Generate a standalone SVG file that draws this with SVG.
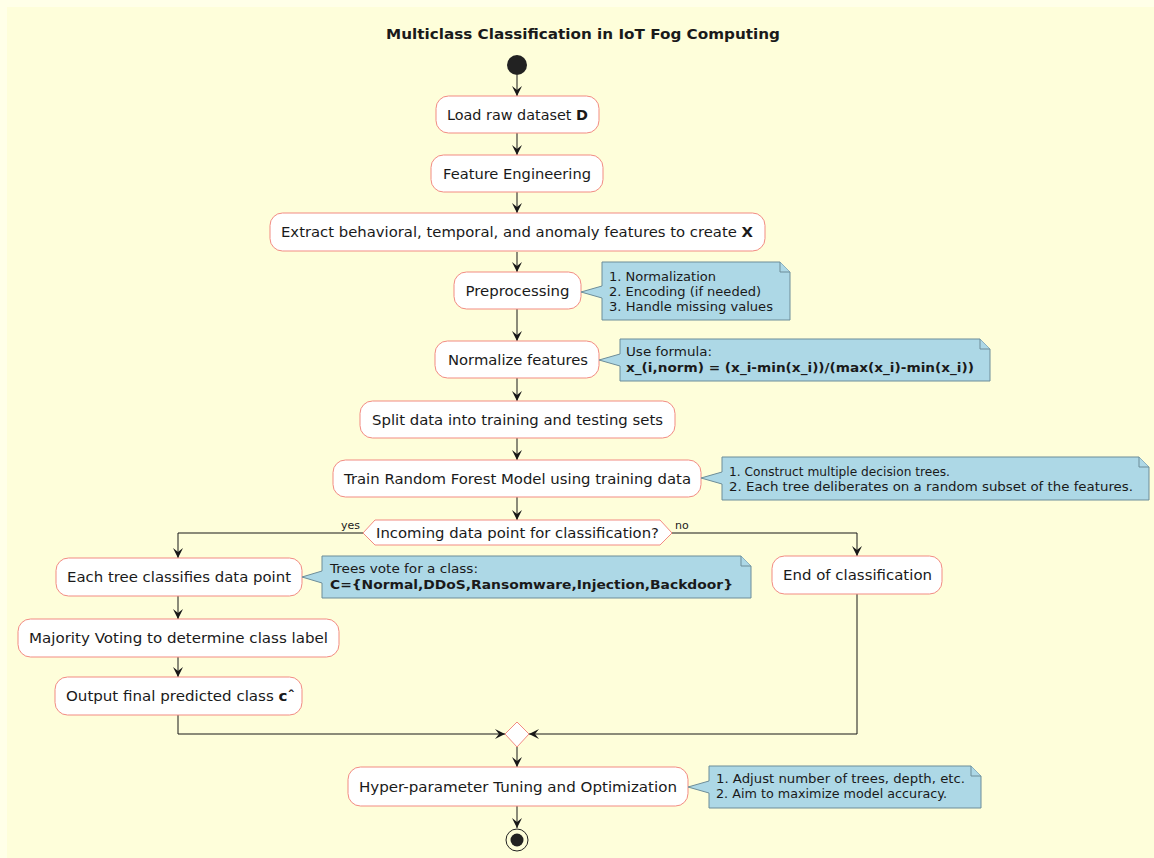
<svg xmlns="http://www.w3.org/2000/svg" width="1154" height="858" viewBox="0 0 1154 858">
<style>
.bx{fill:#FFFFFF;stroke:#F28B82;stroke-width:1}
.nt{fill:#ADD8E6;stroke:#6D8D99;stroke-width:1}
.t{font-family:"DejaVu Sans",sans-serif;font-size:14px;fill:#1A1A1A;text-anchor:middle}
.n{font-family:"DejaVu Sans",sans-serif;font-size:13px;fill:#1A1A1A}
.b{font-weight:bold}
.s{font-family:"DejaVu Sans",sans-serif;font-size:11px;fill:#1A1A1A}
.ln{fill:none;stroke:#181818;stroke-width:1;marker-end:url(#ah)}
.ln0{fill:none;stroke:#181818;stroke-width:1}
</style>
<defs>
<marker id="ah" markerUnits="userSpaceOnUse" markerWidth="11" markerHeight="10" refX="10" refY="5" orient="auto" viewBox="0 0 11 10">
<path d="M0,0 L10,5 L0,10 L4,5 Z" fill="#181818"/>
</marker>
</defs>
<rect x="0" y="0" width="1154" height="858" fill="#FFFFE8"/>
<rect x="7" y="7" width="1147" height="851" fill="#FEFEDA"/>
<text x="583" y="39" class="t b" textLength="394" lengthAdjust="spacingAndGlyphs">Multiclass Classification in IoT Fog Computing</text>

<g id="connectors">
<line class="ln" x1="517" y1="75" x2="517" y2="96"/>
<line class="ln" x1="517" y1="133" x2="517" y2="155"/>
<line class="ln" x1="517" y1="192" x2="517" y2="213"/>
<line class="ln" x1="517" y1="252" x2="517" y2="272"/>
<line class="ln" x1="517" y1="309" x2="517" y2="341"/>
<line class="ln" x1="517" y1="378" x2="517" y2="401"/>
<line class="ln" x1="517" y1="438" x2="517" y2="460"/>
<line class="ln" x1="517" y1="497" x2="517" y2="520"/>
<path class="ln" d="M363,533 H178 V558"/>
<path class="ln" d="M672,533 H857 V556"/>
<line class="ln" x1="178" y1="596" x2="178" y2="619"/>
<line class="ln" x1="178" y1="657" x2="178" y2="677"/>
<path class="ln" d="M178,715 V734 H505"/>
<path class="ln" d="M857,594 V734 H529"/>
<line class="ln" x1="517" y1="747" x2="517" y2="767"/>
<line class="ln" x1="517" y1="806" x2="517" y2="828"/>
<text x="341" y="529" class="s">yes</text>
<text x="675" y="529" class="s">no</text>
</g>

<g id="start"><circle cx="517" cy="65" r="10" fill="#222222"/></g>

<g id="load"><rect class="bx" x="436" y="96" width="163" height="37" rx="12.5"/>
<text class="t" x="517.5" y="120" textLength="141" lengthAdjust="spacingAndGlyphs">Load raw dataset <tspan class="b">D</tspan></text></g>

<g id="feature"><rect class="bx" x="431" y="155" width="172" height="37" rx="12.5"/>
<text class="t" x="517" y="179" textLength="148" lengthAdjust="spacingAndGlyphs">Feature Engineering</text></g>

<g id="extract"><rect class="bx" x="270" y="213" width="495" height="38" rx="12.5"/>
<text class="t" x="517" y="237" textLength="472" lengthAdjust="spacingAndGlyphs">Extract behavioral, temporal, and anomaly features to create <tspan class="b">X</tspan></text></g>

<g id="preprocessing"><rect class="bx" x="454" y="272" width="127" height="37" rx="12.5"/>
<text class="t" x="517.5" y="296" textLength="104" lengthAdjust="spacingAndGlyphs">Preprocessing</text></g>
<g id="note-preprocessing"><path class="nt" d="M602,262 V286 L581,292 L602,298 V320 H790 V272 L780,262 Z"/>
<path class="nt" d="M780,262 V272 H790"/>
<text class="n" x="609" y="281" textLength="107" lengthAdjust="spacingAndGlyphs">1. Normalization</text>
<text class="n" x="609" y="296" textLength="152" lengthAdjust="spacingAndGlyphs">2. Encoding (if needed)</text>
<text class="n" x="609" y="311" textLength="164" lengthAdjust="spacingAndGlyphs">3. Handle missing values</text></g>

<g id="normalize"><rect class="bx" x="435" y="341" width="164" height="37" rx="12.5"/>
<text class="t" x="518" y="365" textLength="140" lengthAdjust="spacingAndGlyphs">Normalize features</text></g>
<g id="note-normalize"><path class="nt" d="M620,339 V354 L599,360 L620,366 V381 H990 V349 L980,339 Z"/>
<path class="nt" d="M980,339 V349 H990"/>
<text class="n" x="626" y="356" textLength="86" lengthAdjust="spacingAndGlyphs">Use formula:</text>
<text class="n b" x="626" y="372" textLength="348" lengthAdjust="spacingAndGlyphs">x_(i,norm) = (x_i-min(x_i))/(max(x_i)-min(x_i))</text></g>

<g id="split"><rect class="bx" x="360" y="401" width="315" height="37" rx="12.5"/>
<text class="t" x="517.5" y="425" textLength="291" lengthAdjust="spacingAndGlyphs">Split data into training and testing sets</text></g>

<g id="train"><rect class="bx" x="333" y="460" width="368" height="37" rx="12.5"/>
<text class="t" x="517.5" y="484" textLength="347" lengthAdjust="spacingAndGlyphs">Train Random Forest Model using training data</text></g>
<g id="note-train"><path class="nt" d="M722,457 V472 L701,478 L722,484 V500 H1149 V467 L1139,457 Z"/>
<path class="nt" d="M1139,457 V467 H1149"/>
<text class="n" x="729" y="476" textLength="221" lengthAdjust="spacingAndGlyphs">1. Construct multiple decision trees.</text>
<text class="n" x="729" y="491" textLength="404" lengthAdjust="spacingAndGlyphs">2. Each tree deliberates on a random subset of the features.</text></g>

<g id="decision"><polygon class="bx" points="363,533 375,520 660,520 672,533 660,545 375,545"/>
<text class="t" x="517.5" y="538" textLength="283" lengthAdjust="spacingAndGlyphs">Incoming data point for classification?</text></g>

<g id="classify"><rect class="bx" x="56" y="558" width="246" height="38" rx="12.5"/>
<text class="t" x="179" y="582" textLength="224" lengthAdjust="spacingAndGlyphs">Each tree classifies data point</text></g>
<g id="note-classify"><path class="nt" d="M322,556 V571 L302,577 L322,583 V598 H751 V566 L741,556 Z"/>
<path class="nt" d="M741,556 V566 H751"/>
<text class="n" x="330" y="573" textLength="148" lengthAdjust="spacingAndGlyphs">Trees vote for a class:</text>
<text class="n b" x="330" y="589" textLength="403" lengthAdjust="spacingAndGlyphs">C={Normal,DDoS,Ransomware,Injection,Backdoor}</text></g>

<g id="end-classification"><rect class="bx" x="772" y="556" width="170" height="38" rx="12.5"/>
<text class="t" x="857.5" y="580" textLength="149" lengthAdjust="spacingAndGlyphs">End of classification</text></g>

<g id="majority"><rect class="bx" x="18" y="619" width="321" height="38" rx="12.5"/>
<text class="t" x="178.5" y="643" textLength="299" lengthAdjust="spacingAndGlyphs">Majority Voting to determine class label</text></g>

<g id="output"><rect class="bx" x="55" y="677" width="247" height="38" rx="12.5"/>
<text class="t" x="180.5" y="701" textLength="229" lengthAdjust="spacingAndGlyphs">Output final predicted class <tspan class="b">cˆ</tspan></text></g>

<g id="merge"><polygon class="bx" points="517,722 529,734 517,747 505,734"/></g>

<g id="tuning"><rect class="bx" x="348" y="767" width="340" height="39" rx="12.5"/>
<text class="t" x="518" y="792" textLength="318" lengthAdjust="spacingAndGlyphs">Hyper-parameter Tuning and Optimization</text></g>
<g id="note-tuning"><path class="nt" d="M709,766 V781 L688,787 L709,793 V808 H981 V776 L971,766 Z"/>
<path class="nt" d="M971,766 V776 H981"/>
<text class="n" x="716" y="783" textLength="249" lengthAdjust="spacingAndGlyphs">1. Adjust number of trees, depth, etc.</text>
<text class="n" x="716" y="798" textLength="231" lengthAdjust="spacingAndGlyphs">2. Aim to maximize model accuracy.</text></g>

<g id="stop"><circle cx="517" cy="840" r="11" fill="none" stroke="#222222" stroke-width="1"/>
<circle cx="517" cy="840" r="6.5" fill="#222222"/></g>
</svg>
